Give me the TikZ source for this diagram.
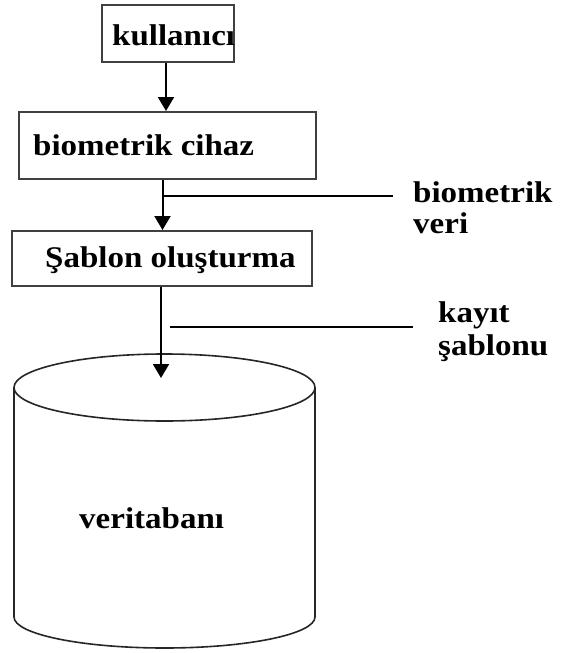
\documentclass[tikz,border=0pt]{standalone}
\usepackage{fontspec}
\setmainfont{Liberation Serif}
\usetikzlibrary{arrows.meta}
\newcommand{\wtxt}[1]{\scalebox{1.1}[1]{#1}}
\begin{document}
\begin{tikzpicture}[x=1pt,y=-1pt,
  boxn/.style={draw=black!75, line width=2pt, inner sep=0pt},
  lbl/.style={inner sep=0pt, font=\fontsize{30}{36}\selectfont\bfseries},
  arr/.style={line width=2pt, -{Triangle[width=16pt,length=14pt]}},
  ln/.style={line width=1.8pt}]
\useasboundingbox (0,0) rectangle (562,653);
% boxes
\node[boxn, minimum width=132pt, minimum height=57pt] (k) at (168,33.5) {};
\node[lbl, anchor=base west] (kt) at (112,45) {\wtxt{kullanıcı}};
\node[boxn, minimum width=297pt, minimum height=67pt] (bc) at (167.5,145.5) {};
\node[lbl, anchor=base west] (bct) at (33,155) {\wtxt{biometrik cihaz}};
\node[boxn, minimum width=300pt, minimum height=55pt] (sb) at (162,258.5) {};
\node[lbl, anchor=base west] (sbt) at (45,267) {\wtxt{Şablon oluşturma}};
% side labels
\node[lbl, anchor=base west] (bv1) at (413,202) {\wtxt{biometrik}};
\node[lbl, anchor=base west] (bv2) at (413,233) {\wtxt{veri}};
\node[lbl, anchor=base west] (ks1) at (438,322) {\wtxt{kayıt}};
\node[lbl, anchor=base west] (ks2) at (438,355) {\wtxt{şablonu}};
% cylinder
\draw[line width=1.6pt, draw=black!85] (164.5,387.5) ellipse [x radius=150.5pt, y radius=33.5pt];
\draw[line width=1.6pt, draw=black!85] (14,387.5) -- (14,617)
  .. controls (14,634.1) and (81.4,648) .. (164.5,648)
  .. controls (247.6,648) and (315,634.1) .. (315,617) -- (315,387.5);
\node[lbl, anchor=base west] (db) at (79,528) {\wtxt{veritabanı}};
\coordinate (dbtop) at (161,378);
% connectors
\draw[arr] ([xshift=-2pt]k.south) -- ([xshift=-2pt]k.south |- bc.north);
\draw[arr] ([xshift=-5pt]bc.south) -- ([xshift=-5pt]bc.south |- sb.north);
\draw[arr] ([xshift=-1pt]sb.south) -- (dbtop);
\coordinate (v1a) at (162.5,196);
\coordinate (v1b) at (393,196);
\draw[ln] (v1a) -- (v1b);
\coordinate (v2a) at (170,327);
\coordinate (v2b) at (413,327);
\draw[ln] (v2a) -- (v2b);
\end{tikzpicture}
\end{document}
